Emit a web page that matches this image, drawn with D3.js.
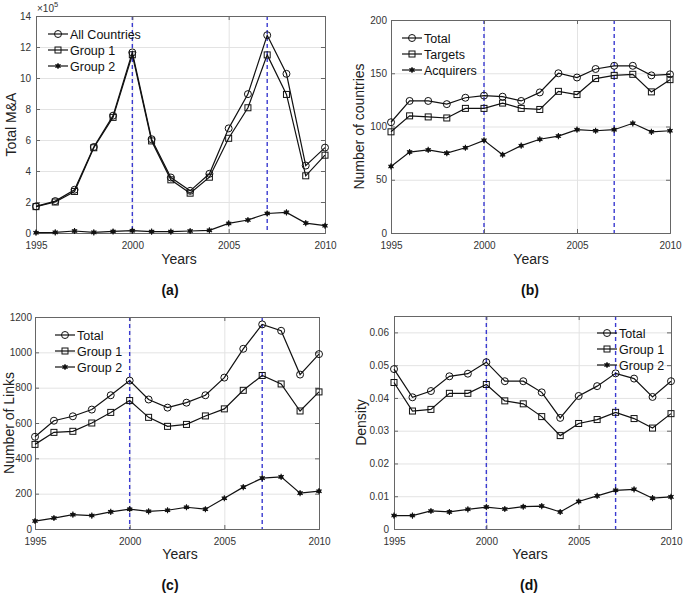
<!DOCTYPE html>
<html>
<head>
<meta charset="utf-8">
<script src="https://cdn.jsdelivr.net/npm/d3@7"></script>
<style>
body { margin: 0; background: #fff; }
svg { font-family: "Liberation Sans", Arial, sans-serif; }
.tick text { fill: #333; font-size: 10px; }
.grid line { stroke: #e3e3e3; }
</style>
</head>
<body>
<svg id="fig" width="685" height="598"></svg>
<script>
var years = [1995,1996,1997,1998,1999,2000,2001,2002,2003,2004,2005,2006,2007,2008,2009,2010]
var crisisYears = [2000, 2007]

// (a) total M&A, units of 1e5
var maAll    = [1.72,2.06,2.79,5.55,7.57,11.65,6.05,3.58,2.72,3.82,6.75,8.96,12.76,10.27,4.35,5.51]
var maGroup1 = [1.70,2.00,2.68,5.50,7.46,11.50,5.94,3.43,2.57,3.60,6.11,8.08,11.49,8.94,3.69,5.02]
var maGroup2 = [0.02,0.04,0.13,0.04,0.10,0.15,0.09,0.09,0.13,0.17,0.62,0.84,1.26,1.33,0.64,0.47]

// (b) number of countries
var ctTotal     = [104,124,124,121,127,129,128,124,132,150,146,154,157,157,148,149]
var ctTargets   = [95,110,109,108,117,117,122,117,116,133,130,145,148,149,132.5,144]
var ctAcquirers = [62.5,76,78,75,80,87,73.5,82,88,91,97,96,97,103,95,96]

// (c) number of links
var lkTotal  = [522,613,638,676,757,840,733,687,715,757,857,1020,1158,1122,874,990]
var lkGroup1 = [479,547,553,600,660,727,632,581,592,640,680,785,869,821,668,776]
var lkGroup2 = [45,62,81,76,97,112,100,106,123,112,174,237,288,295,203,214]

// (d) density
var dnTotal  = [0.0488,0.0402,0.0421,0.0466,0.0474,0.0509,0.0451,0.0451,0.0417,0.0339,0.0406,0.0436,0.0475,0.0459,0.0403,0.0451]
var dnGroup1 = [0.0447,0.0360,0.0365,0.0414,0.0414,0.0441,0.0391,0.0382,0.0343,0.0285,0.0322,0.0334,0.0356,0.0337,0.0308,0.0352]
var dnGroup2 = [0.0041,0.0041,0.0055,0.0052,0.0060,0.0067,0.0061,0.0068,0.0070,0.0052,0.0084,0.0101,0.0118,0.0121,0.0094,0.0098]

var xTicks = [1995, 2000, 2005, 2010]

var panels = [
	{ id: 'a', box: [36, 16, 325, 233], yMax: 14, yTicks: [0,2,4,6,8,10,12,14], fmt: d3.format('d'),
	  ylabel: 'Total M&A', ylabelX: 11, exp: true, pad: 5,
	  series: [maAll, maGroup1, maGroup2], names: ['All Countries','Group 1','Group 2'],
	  legend: [48, 34], label: [170, 295], years: [179, 264] },
	{ id: 'b', box: [391, 20, 670, 233], yMax: 200, yTicks: [0,50,100,150,200], fmt: d3.format('d'),
	  ylabel: 'Number of countries', ylabelX: 359, pad: 4,
	  series: [ctTotal, ctTargets, ctAcquirers], names: ['Total','Targets','Acquirers'],
	  legend: [402, 38], label: [530, 295], years: [531, 264] },
	{ id: 'c', box: [35, 317, 319, 529], yMax: 1200, yTicks: [0,200,400,600,800,1000,1200], fmt: d3.format('d'),
	  ylabel: 'Number of Links', ylabelX: 9, pad: 3,
	  series: [lkTotal, lkGroup1, lkGroup2], names: ['Total','Group 1','Group 2'],
	  legend: [55, 335], label: [170, 590], years: [180, 559] },
	{ id: 'd', box: [394, 316, 671, 529], yMax: 0.065, yTicks: [0,0.01,0.02,0.03,0.04,0.05,0.06],
	  fmt: function(d) { return d === 0 ? '0' : d3.format('.2f')(d) },
	  ylabel: 'Density', ylabelX: 361, pad: 5,
	  series: [dnTotal, dnGroup1, dnGroup2], names: ['Total','Group 1','Group 2'],
	  legend: [597, 333], label: [529, 590], years: [530, 559] }
]

var svg = d3.select('#fig')
var frameColor = '#666'

var drawMarker = function(g, kind, x, y) {
	if (kind == 0) {
		g.append('circle').attr('cx', x).attr('cy', y).attr('r', 3.5)
			.attr('fill', 'none').attr('stroke', '#111').attr('stroke-width', 1)
	} else if (kind == 1) {
		g.append('rect').attr('x', x-3).attr('y', y-3).attr('width', 6).attr('height', 6)
			.attr('fill', 'none').attr('stroke', '#111').attr('stroke-width', 1)
	} else {
		g.append('path').attr('transform', 'translate('+x+','+y+')')
			.attr('d', d3.symbol(d3.symbolAsterisk, 26)())
			.attr('stroke', '#111').attr('stroke-width', 1.1).attr('fill', 'none')
		g.append('circle').attr('cx', x).attr('cy', y).attr('r', 2.1).attr('fill', '#111')
	}
}

panels.forEach(function(p) {

	var x0 = p.box[0], y0 = p.box[1], x1 = p.box[2], y1 = p.box[3]

	var x = d3.scaleLinear().domain([1995, 2010]).range([x0, x1])
	var y = d3.scaleLinear().domain([0, p.yMax]).range([y1, y0])

	var g = svg.append('g').attr('class', 'panel-' + p.id)

	// grid
	g.append('g').attr('class', 'grid')
		.attr('transform', 'translate(0,' + y1 + ')')
		.call(d3.axisBottom(x).tickValues(xTicks).tickSize(-(y1 - y0)).tickFormat(''))
		.call(function(s) { s.select('.domain').remove() })
	g.append('g').attr('class', 'grid')
		.attr('transform', 'translate(' + x0 + ',0)')
		.call(d3.axisLeft(y).tickValues(p.yTicks).tickSize(-(x1 - x0)).tickFormat(''))
		.call(function(s) { s.select('.domain').remove() })

	// crisis lines
	crisisYears.forEach(function(cy) {
		g.append('line')
			.attr('x1', x(cy)).attr('x2', x(cy)).attr('y1', y0).attr('y2', y1)
			.attr('stroke', '#3a3ad0').attr('stroke-width', 1.4).attr('stroke-dasharray', '4,3')
	})

	// axes with inward ticks
	var ax = g.append('g').attr('transform', 'translate(0,' + y1 + ')')
		.call(d3.axisBottom(x).tickValues(xTicks).tickSize(-4).tickPadding(9).tickFormat(d3.format('d')))
	var ay = g.append('g').attr('transform', 'translate(' + x0 + ',0)')
		.call(d3.axisLeft(y).tickValues(p.yTicks).tickSize(-4).tickPadding(p.pad).tickFormat(p.fmt))
	var axTop = g.append('g').attr('transform', 'translate(0,' + y0 + ')')
		.call(d3.axisTop(x).tickValues(xTicks).tickSize(-4).tickFormat(''))
	var ayRight = g.append('g').attr('transform', 'translate(' + x1 + ',0)')
		.call(d3.axisRight(y).tickValues(p.yTicks).tickSize(-4).tickFormat(''))
	;[ax, ay, axTop, ayRight].forEach(function(a) {
		a.selectAll('.domain').attr('stroke', frameColor)
		a.selectAll('.tick line').attr('stroke', frameColor)
	})

	// series
	var line = d3.line()
		.x(function(d, i) { return x(years[i]) })
		.y(function(d) { return y(d) })

	p.series.forEach(function(vals, k) {
		g.append('path').datum(vals)
			.attr('d', line)
			.attr('fill', 'none').attr('stroke', '#111').attr('stroke-width', 1.2)
		var mg = g.append('g')
		vals.forEach(function(v, i) { drawMarker(mg, k, x(years[i]), y(v)) })
	})

	// legend
	var lg = g.append('g')
	p.names.forEach(function(name, k) {
		var ly = p.legend[1] + k * 16
		lg.append('line').attr('x1', p.legend[0]).attr('x2', p.legend[0] + 20)
			.attr('y1', ly).attr('y2', ly).attr('stroke', '#111').attr('stroke-width', 1.2)
		drawMarker(lg, k, p.legend[0] + 10, ly)
		lg.append('text').attr('x', p.legend[0] + 22).attr('y', ly + 4.5)
			.attr('font-size', 12.5).attr('fill', '#111').text(name)
	})

	// labels
	g.append('text').attr('x', p.years[0]).attr('y', p.years[1])
		.attr('text-anchor', 'middle').attr('font-size', 14).attr('fill', '#222').text('Years')
	g.append('text')
		.attr('transform', 'translate(' + p.ylabelX + ',' + ((y0 + y1) / 2) + ') rotate(-90)')
		.attr('text-anchor', 'middle').attr('dy', '0.35em').attr('font-size', 14).attr('fill', '#222')
		.text(p.ylabel)
	g.append('text').attr('x', p.label[0]).attr('y', p.label[1])
		.attr('text-anchor', 'middle').attr('font-size', 14).attr('font-weight', 'bold')
		.attr('fill', '#111').text('(' + p.id + ')')

	if (p.exp) {
		var t = g.append('text').attr('x', x0 + 1).attr('y', y0 - 4)
			.attr('font-size', 10).attr('fill', '#333')
		t.append('tspan').text('\u00d710')
		t.append('tspan').attr('font-size', 7.5).attr('dy', -5).text('5')
	}
})
</script>
</body>
</html>
